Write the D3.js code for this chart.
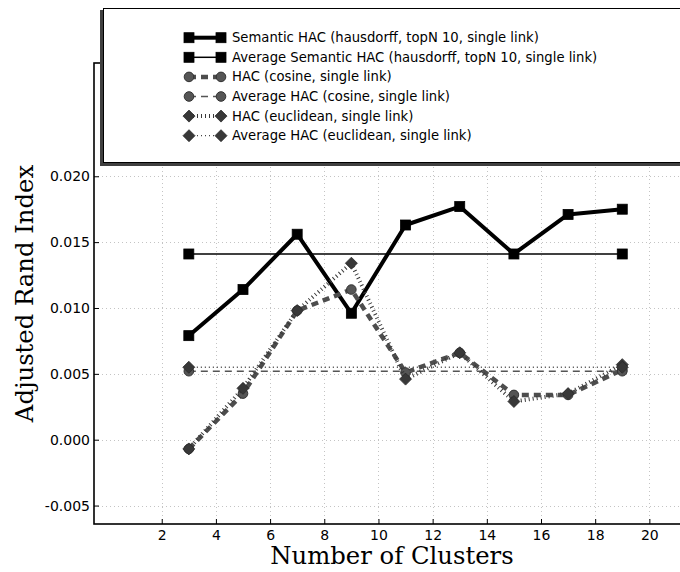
<!DOCTYPE html>
<html>
<head>
<meta charset="utf-8">
<script src="https://cdn.jsdelivr.net/npm/d3@7"></script>
<style>
  html, body { margin: 0; padding: 0; background: #fff; }
  svg { display: block; }
</style>
</head>
<body>
<svg id="chart" width="680" height="572"></svg>
<script>
// Cluster counts on the x axis
const clusters = [3, 5, 7, 9, 11, 13, 15, 17, 19];

// Adjusted Rand Index per clustering run
const semanticHAC = [0.0079, 0.0114, 0.0156, 0.0096, 0.0163, 0.0177, 0.0141, 0.0171, 0.0175];
const hacCosine   = [-0.0007, 0.0035, 0.0098, 0.0114, 0.0051, 0.0066, 0.0034, 0.0034, 0.0053];
const hacEuclid   = [-0.0007, 0.0039, 0.0098, 0.0134, 0.0046, 0.0066, 0.0029, 0.0035, 0.0057];

// Averages, drawn as flat lines from the first to the last cluster count
const avgSemanticHAC = 0.0141;
const avgHacCosine   = 0.0052;
const avgHacEuclid   = 0.0055;

// Tick values
const xTicks = [2, 4, 6, 8, 10, 12, 14, 16, 18, 20];
const yTicks = [-0.005, 0.000, 0.005, 0.010, 0.015, 0.020];

const legendLabels = [
  "Semantic HAC (hausdorff, topN 10, single link)",
  "Average Semantic HAC (hausdorff, topN 10, single link)",
  "HAC (cosine, single link)",
  "Average HAC (cosine, single link)",
  "HAC (euclidean, single link)",
  "Average HAC (euclidean, single link)"
];

const svg = d3.select("#chart");
const W = 680, H = 572;
const plot = { left: 94, top: 63, right: 690, bottom: 524 };

svg.append("rect").attr("width", W).attr("height", H).attr("fill", "#fff");

const x = d3.scaleLinear().domain([-0.5, 21.5]).range([plot.left, plot.right]);
const y = d3.scaleLinear().domain([-0.0064, 0.0286]).range([plot.bottom, plot.top]);

// Dotted grid
const grid = svg.append("g").attr("stroke", "#c4c4c4").attr("stroke-width", 1)
  .attr("stroke-dasharray", "1,3").attr("fill", "none");
xTicks.forEach(t => grid.append("line")
  .attr("x1", Math.round(x(t)) + 0.5).attr("x2", Math.round(x(t)) + 0.5)
  .attr("y1", plot.top).attr("y2", plot.bottom));
yTicks.forEach(t => grid.append("line")
  .attr("x1", plot.left).attr("x2", plot.right)
  .attr("y1", Math.round(y(t)) + 0.5).attr("y2", Math.round(y(t)) + 0.5));

// Series styles
const styles = [
  { color: "#000", width: 4,   dash: null,  marker: "square",  fill: "#000",    edge: "#000" },
  { color: "#000", width: 1.5, dash: null,  marker: "square",  fill: "#000",    edge: "#000" },
  { color: "#4d4d4d", width: 4.5, dash: "7,5", marker: "circle", fill: "#555", edge: "#333" },
  { color: "#555", width: 1.5, dash: "7,5", marker: "circle",  fill: "#555",    edge: "#333" },
  { color: "#383838", width: 4, dash: "1,3", marker: "diamond", fill: "#383838", edge: "#2a2a2a" },
  { color: "#444", width: 1.3, dash: "1,3", marker: "diamond", fill: "#383838", edge: "#2a2a2a" }
];

const series = [
  clusters.map((c, i) => [c, semanticHAC[i]]),
  [[clusters[0], avgSemanticHAC], [clusters[clusters.length - 1], avgSemanticHAC]],
  clusters.map((c, i) => [c, hacCosine[i]]),
  [[clusters[0], avgHacCosine], [clusters[clusters.length - 1], avgHacCosine]],
  clusters.map((c, i) => [c, hacEuclid[i]]),
  [[clusters[0], avgHacEuclid], [clusters[clusters.length - 1], avgHacEuclid]]
];

function drawMarker(g, kind, cx, cy, st) {
  if (kind === "square") {
    g.append("rect").attr("x", cx - 5).attr("y", cy - 5).attr("width", 10).attr("height", 10)
      .attr("fill", st.fill).attr("stroke", st.edge).attr("stroke-width", 0.8);
  } else if (kind === "circle") {
    g.append("circle").attr("cx", cx).attr("cy", cy).attr("r", 4.8)
      .attr("fill", st.fill).attr("stroke", st.edge).attr("stroke-width", 1);
  } else {
    const r = 6;
    g.append("path").attr("d", `M${cx},${cy - r}L${cx + r},${cy}L${cx},${cy + r}L${cx - r},${cy}Z`)
      .attr("fill", st.fill).attr("stroke", st.edge).attr("stroke-width", 0.8);
  }
}

const line = d3.line().x(d => x(d[0])).y(d => y(d[1]));
const marks = svg.append("g");
series.forEach((data, k) => {
  const st = styles[k];
  const g = marks.append("g");
  g.append("path").datum(data).attr("d", line)
    .attr("fill", "none").attr("stroke", st.color).attr("stroke-width", st.width)
    .attr("stroke-dasharray", st.dash).attr("stroke-linejoin", "round");
  data.forEach(d => drawMarker(g, st.marker, x(d[0]), y(d[1]), st));
});

// Frame
svg.append("rect").attr("x", plot.left).attr("y", plot.top)
  .attr("width", plot.right - plot.left).attr("height", plot.bottom - plot.top)
  .attr("fill", "none").attr("stroke", "#000").attr("stroke-width", 1.6);

// Axes with inward ticks
const xAxis = d3.axisBottom(x).tickValues(xTicks).tickSize(-5).tickPadding(6)
  .tickFormat(d3.format("d"));
const gx = svg.append("g").attr("transform", `translate(0,${plot.bottom})`).call(xAxis);
const yAxis = d3.axisLeft(y).tickValues(yTicks).tickSize(-5).tickPadding(4)
  .tickFormat(d => d < 0 ? "-" + d3.format(".3f")(-d) : d3.format(".3f")(d));
const gy = svg.append("g").attr("transform", `translate(${plot.left},0)`).call(yAxis);
[gx, gy].forEach(g => {
  g.select(".domain").remove();
  g.selectAll(".tick line").attr("stroke", "#000").attr("stroke-width", 1);
  g.selectAll(".tick text").attr("font-family", "DejaVu Sans").attr("font-size", 14)
    .attr("fill", "#000");
});

// Axis titles
svg.append("text").attr("x", (plot.left + plot.right) / 2).attr("y", 564)
  .attr("text-anchor", "middle").attr("font-family", "DejaVu Serif").attr("font-size", 24.3)
  .attr("fill", "#000").text("Number of Clusters");
svg.append("text").attr("transform", `translate(24,${(plot.top + plot.bottom) / 2}) rotate(-90)`)
  .attr("text-anchor", "middle").attr("dominant-baseline", "central")
  .attr("font-family", "DejaVu Serif").attr("font-size", 24.3)
  .attr("fill", "#000").text("Adjusted Rand Index");

// Legend with offset shadow
const legend = svg.append("g");
legend.append("rect").attr("x", 100).attr("y", 10).attr("width", 640).attr("height", 156)
  .attr("fill", "#404040");
legend.append("rect").attr("x", 103.5).attr("y", 8.5).attr("width", 640).attr("height", 154)
  .attr("fill", "#fff").attr("stroke", "#000").attr("stroke-width", 1);

const hx1 = 189, hx2 = 221, row0 = 37.7, rowStep = 19.6;
legendLabels.forEach((label, k) => {
  const st = styles[k];
  const cy = row0 + k * rowStep;
  const g = legend.append("g");
  g.append("line").attr("x1", hx1).attr("x2", hx2).attr("y1", cy).attr("y2", cy)
    .attr("stroke", st.color).attr("stroke-width", st.width).attr("stroke-dasharray", st.dash);
  drawMarker(g, st.marker, hx1, cy, st);
  drawMarker(g, st.marker, hx2, cy, st);
  g.append("text").attr("x", 232).attr("y", cy).attr("dominant-baseline", "central")
    .attr("font-family", "DejaVu Sans").attr("font-size", 13.2).attr("fill", "#000").text(label);
});
</script>
</body>
</html>
